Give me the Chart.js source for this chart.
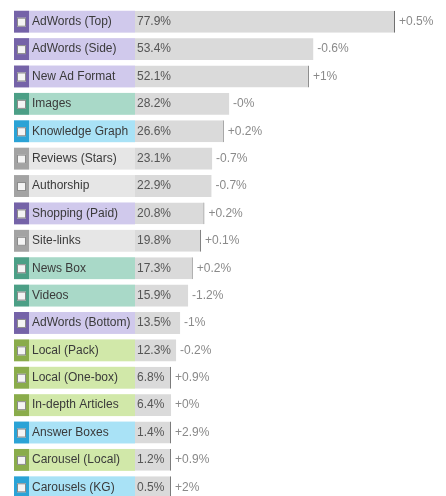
<!DOCTYPE html>
<html>
<head>
<meta charset="utf-8">
<script src="https://cdn.jsdelivr.net/npm/chart.js@4.4.0/dist/chart.umd.min.js"></script>
<style>
  html, body { margin: 0; padding: 0; background: #fff; overflow: hidden; }
  #wrap { width: 446px; height: 501px; position: relative; }
</style>
</head>
<body>
<div id="wrap"><canvas id="chart"></canvas></div>
<script>
const labels = ['AdWords (Top)', 'AdWords (Side)', 'New Ad Format', 'Images', 'Knowledge Graph',
  'Reviews (Stars)', 'Authorship', 'Shopping (Paid)', 'Site-links', 'News Box', 'Videos',
  'AdWords (Bottom)', 'Local (Pack)', 'Local (One-box)', 'In-depth Articles', 'Answer Boxes',
  'Carousel (Local)', 'Carousels (KG)'];
const values = [77.9, 53.4, 52.1, 28.2, 26.6, 23.1, 22.9, 20.8, 19.8, 17.3, 15.9, 13.5, 12.3, 6.8, 6.4, 1.4, 1.2, 0.5];
const changes = ['+0.5%', '-0.6%', '+1%', '-0%', '+0.2%', '-0.7%', '-0.7%', '+0.2%', '+0.1%', '+0.2%',
  '-1.2%', '-1%', '-0.2%', '+0.9%', '+0%', '+2.9%', '+0.9%', '+2%'];
const groups = ['ads', 'ads', 'ads', 'media', 'kg', 'plain', 'plain', 'ads', 'plain', 'media', 'media',
  'ads', 'local', 'local', 'local', 'kg', 'local', 'kg'];

const palette = {
  ads:   { dark: '#7563a8', light: '#d0c9ec' },
  media: { dark: '#4c9f86', light: '#a9d9c8' },
  kg:    { dark: '#2ba3d6', light: '#a9e2f6' },
  plain: { dark: '#a3a3a3', light: '#e6e6e6' },
  local: { dark: '#8aac4b', light: '#d1e8a9' }
};

const MIN_BAR = 10.8;  // short bars still get room for their value text
const shown = values.map(v => Math.max(v, MIN_BAR));

const rowLabels = {
  id: 'rowLabels',
  afterDatasetsDraw(chart) {
    const ctx = chart.ctx;
    const meta = chart.getDatasetMeta(0);
    const left = chart.chartArea.left;
    ctx.save();
    ctx.font = '12px "Liberation Sans", Arial, sans-serif';
    ctx.textBaseline = 'middle';
    meta.data.forEach((bar, i) => {
      const y = bar.y, h = bar.height;
      const col = palette[groups[i]];
      ctx.fillStyle = col.dark;
      ctx.fillRect(14, y - h / 2, 15, h);
      ctx.fillStyle = col.light;
      ctx.fillRect(29, y - h / 2, left - 29, h);
      // checkbox
      ctx.fillStyle = '#f4f4f4';
      ctx.fillRect(17, y - 4, 9, 9);
      ctx.strokeStyle = '#8a8a8a';
      ctx.lineWidth = 1;
      ctx.strokeRect(17.5, y - 3.5, 8, 8);
      ctx.fillStyle = '#3a3a3a';
      ctx.textAlign = 'left';
      ctx.fillText(labels[i], 32, y);
      ctx.fillStyle = '#555';
      ctx.fillText(values[i].toFixed(1) + '%', left + 2, y);
      ctx.fillStyle = '#8a8a8a';
      ctx.fillText(changes[i], bar.x + 4, y);
    });
    ctx.restore();
  }
};

new Chart(document.getElementById('chart'), {
  type: 'bar',
  data: {
    labels: labels,
    datasets: [{
      data: shown,
      backgroundColor: '#dadada',
      borderColor: '#707070',
      borderWidth: changes.map(c => c.startsWith('+') && c !== '+0%' ? { right: 1, left: 0, top: 0, bottom: 0 } : 0),
      borderSkipped: false,
      categoryPercentage: 1,
      barPercentage: 0.8
    }]
  },
  options: {
    indexAxis: 'y',
    responsive: true,
    maintainAspectRatio: false,
    animation: false,
    layout: { padding: { left: 135, right: 51, top: 8, bottom: 0 } },
    plugins: { legend: { display: false }, tooltip: { enabled: false } },
    scales: {
      x: { min: 0, max: 77.9, display: false },
      y: { display: false }
    }
  },
  plugins: [rowLabels]
});
</script>
</body>
</html>
